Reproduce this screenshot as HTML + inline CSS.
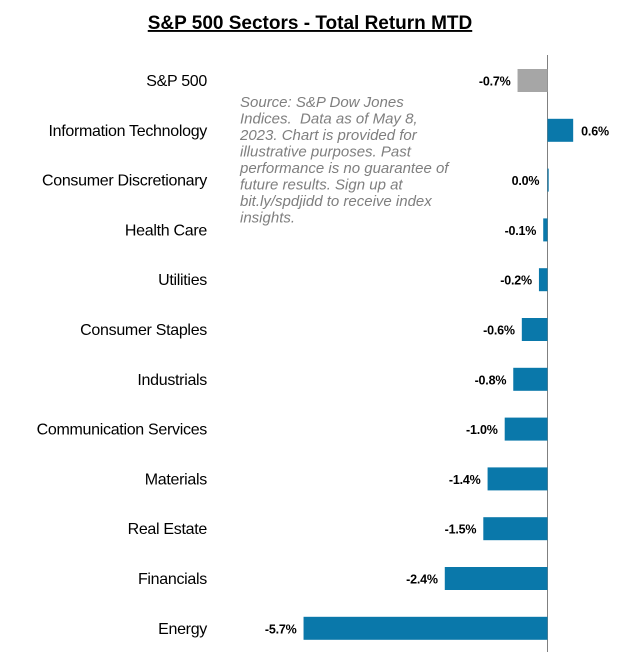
<!DOCTYPE html>
<html><head><meta charset="utf-8"><style>
body{margin:0;background:#fff;font-family:"Liberation Sans",Arial,sans-serif}
</style></head><body>
<svg width="620" height="657" viewBox="0 0 620 657">
<text x="310" y="29" text-anchor="middle" font-size="19" font-weight="bold" text-decoration="underline">S&amp;P 500 Sectors - Total Return MTD</text>
<line x1="547.5" y1="55" x2="547.5" y2="652" stroke="#808080" stroke-width="1"/>
<g id="bars"></g>
<text font-size="15" font-style="italic" fill="#7f7f7f" xml:space="preserve">
<tspan x="240" y="107">Source: S&amp;P Dow Jones</tspan>
<tspan x="240" y="123.5">Indices.&#160; Data as of May 8,</tspan>
<tspan x="240" y="140">2023. Chart is provided for</tspan>
<tspan x="240" y="156.5">illustrative purposes. Past</tspan>
<tspan x="240" y="173">performance is no guarantee of</tspan>
<tspan x="240" y="189.5">future results. Sign up at</tspan>
<tspan x="240" y="206">bit.ly/spdjidd to receive index</tspan>
<tspan x="240" y="222.5">insights.</tspan>
</text>
</svg>
<script>
const categories=["S&P 500","Information Technology","Consumer Discretionary","Health Care","Utilities","Consumer Staples","Industrials","Communication Services","Materials","Real Estate","Financials","Energy"];
const values=[-0.7,0.6,0.0,-0.1,-0.2,-0.6,-0.8,-1.0,-1.4,-1.5,-2.4,-5.7];
const labels=["-0.7%","0.6%","0.0%","-0.1%","-0.2%","-0.6%","-0.8%","-1.0%","-1.4%","-1.5%","-2.4%","-5.7%"];
const NS="http://www.w3.org/2000/svg";
const g=document.getElementById('bars');
const x=v=>547.5+v*42.8;
const y=i=>80.5+i*49.8;
categories.forEach((c,i)=>{
  const v=values[i],x0=Math.min(x(0),x(v)),w=Math.max(Math.abs(x(v)-x(0)),1.2);
  const r=document.createElementNS(NS,'rect');
  r.setAttribute('x',x0);r.setAttribute('y',y(i)-11.5);r.setAttribute('width',w);r.setAttribute('height',23);
  r.setAttribute('fill',i===0?'#a6a6a6':'#0a78aa');
  
  
  g.appendChild(r);
  const t=document.createElementNS(NS,'text');
  t.setAttribute('x',207);t.setAttribute('y',y(i)+5.5);t.setAttribute('text-anchor','end');t.setAttribute('font-size','16');
  t.setAttribute('letter-spacing','-0.3');
  t.textContent=c;
  
  
  g.appendChild(t);
  const l=document.createElementNS(NS,'text');
  const pos=v>0;
  l.setAttribute('x',pos?x(v)+8:Math.min(x(v),x(0)-1.2)-7);
  l.setAttribute('y',y(i)+5);l.setAttribute('text-anchor',pos?'start':'end');
  l.setAttribute('font-size','12.5');l.setAttribute('font-weight','bold');
  l.setAttribute('letter-spacing','-0.2');
  l.textContent=labels[i];
  
  
  g.appendChild(l);
});
</script>
</body></html>
